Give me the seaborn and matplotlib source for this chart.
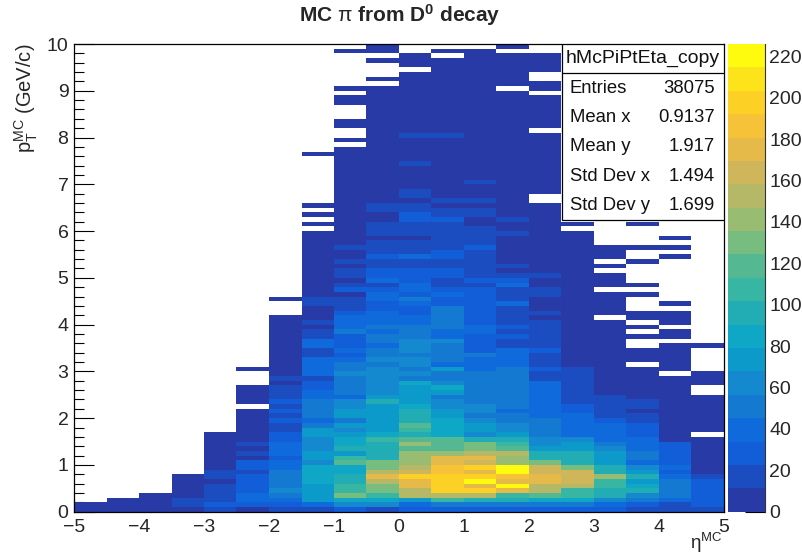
#!/usr/bin/env python3
""" MC pi from D0 decay, pT vs eta, with a ROOT style stats box. """
import matplotlib
matplotlib.use("Agg")
import matplotlib.pyplot as plt
from matplotlib.colors import ListedColormap
from matplotlib.patches import Rectangle
from matplotlib.ticker import MultipleLocator
import pandas as pd
import seaborn as sns

# Counts per pT bin (0.1 GeV/c, lowest first), one list per eta bin (0.5 wide).
col_00 = [5, 5]
col_01 = [5, 5, 5]
col_02 = [5, 5, 5, 5]
col_03 = [5, 16, 16, 5, 5, 5, 5, 5]
col_04 = [16, 28, 16, 16, 16, 16, 5, 16, 16, 5,
          5, 5, 5, 5, 5, 5, 5]
col_05 = [5, 28, 39, 39, 28, 28, 28, 28, 16, 28,
          28, 5, 16, 5, 16, 5, 5, 5, 5, 5,
          5, 5, 0, 5, 5, 5, 5, 0, 0, 0,
          5]
col_06 = [16, 28, 39, 50, 62, 50, 50, 50, 50, 39,
          39, 28, 39, 39, 39, 28, 28, 16, 16, 28,
          16, 28, 16, 28, 16, 16, 16, 5, 16, 5,
          5, 5, 5, 5, 5, 5, 5, 5, 5, 5,
          5, 5, 0, 0, 0, 5]
col_07 = [16, 39, 73, 73, 73, 73, 84, 84, 84, 84,
          62, 73, 73, 62, 62, 62, 73, 73, 50, 39,
          50, 50, 50, 50, 39, 39, 28, 28, 16, 39,
          39, 39, 39, 16, 16, 39, 39, 16, 16, 5,
          16, 5, 5, 5, 16, 16, 5, 5, 5, 5,
          5, 5, 5, 5, 5, 5, 5, 5, 5, 5,
          0, 5, 0, 5, 0, 5, 0, 0, 0, 0,
          0, 0, 0, 0, 0, 0, 5]
col_08 = [28, 62, 84, 130, 107, 107, 96, 96, 84, 84,
          118, 107, 73, 96, 84, 84, 73, 62, 73, 50,
          73, 73, 62, 62, 39, 50, 50, 50, 50, 62,
          50, 50, 39, 28, 39, 28, 28, 28, 50, 39,
          39, 39, 28, 16, 16, 16, 5, 28, 16, 5,
          16, 16, 5, 16, 5, 5, 16, 5, 5, 5,
          5, 5, 5, 5, 5, 5, 5, 5, 5, 5,
          5, 5, 5, 5, 5, 5, 5, 5, 0, 5,
          0, 0, 5, 5, 0, 0, 0, 5, 5, 0,
          5, 0, 0, 0, 0, 0, 0, 0, 5, 0]
col_09 = [16, 62, 84, 107, 130, 130, 152, 175, 152, 130,
          130, 96, 96, 96, 96, 107, 84, 73, 73, 73,
          73, 73, 73, 96, 73, 62, 62, 62, 62, 62,
          62, 50, 62, 50, 50, 39, 50, 50, 39, 50,
          39, 39, 39, 28, 28, 39, 39, 28, 16, 39,
          28, 28, 16, 16, 28, 16, 16, 16, 5, 16,
          16, 16, 5, 5, 16, 16, 5, 5, 5, 5,
          5, 5, 5, 5, 5, 5, 5, 5, 5, 5,
          5, 5, 5, 5, 5, 5, 5, 5, 5, 5,
          5, 0, 5, 0, 0, 0, 5, 0, 5, 5]
col_10 = [28, 39, 73, 152, 152, 175, 175, 197, 163, 152,
          141, 141, 141, 118, 141, 118, 96, 107, 118, 96,
          96, 96, 84, 73, 73, 73, 73, 84, 50, 62,
          50, 62, 62, 50, 62, 62, 62, 50, 50, 50,
          39, 39, 28, 28, 39, 50, 28, 39, 39, 28,
          28, 28, 16, 16, 39, 16, 16, 16, 5, 16,
          16, 16, 28, 28, 16, 16, 5, 16, 16, 5,
          5, 5, 5, 5, 16, 5, 5, 5, 5, 5,
          16, 5, 5, 5, 5, 5, 5, 5, 5, 5,
          5, 5, 5, 5, 0, 5, 5, 5, 0, 0]
col_11 = [28, 50, 107, 152, 197, 197, 197, 197, 186, 186,
          175, 175, 141, 118, 118, 118, 84, 84, 84, 84,
          73, 73, 62, 62, 50, 73, 84, 62, 50, 50,
          73, 39, 50, 50, 50, 50, 62, 39, 39, 50,
          50, 50, 50, 50, 28, 28, 39, 28, 16, 16,
          28, 28, 16, 16, 28, 28, 16, 16, 16, 16,
          16, 16, 28, 16, 16, 5, 16, 5, 5, 5,
          5, 5, 5, 5, 5, 5, 5, 5, 5, 5,
          16, 5, 5, 5, 5, 5, 5, 5, 5, 5,
          5, 5, 5, 5, 5, 5, 5, 0, 5, 0]
col_12 = [28, 50, 96, 152, 197, 175, 226, 197, 175, 197,
          163, 175, 152, 130, 130, 96, 62, 73, 73, 62,
          50, 62, 62, 50, 50, 50, 50, 50, 50, 50,
          39, 39, 39, 50, 28, 28, 28, 28, 39, 39,
          28, 28, 28, 28, 28, 28, 28, 28, 16, 28,
          16, 16, 16, 16, 16, 16, 28, 16, 16, 16,
          16, 5, 5, 16, 16, 5, 16, 5, 5, 5,
          16, 5, 5, 5, 5, 5, 5, 5, 5, 5,
          5, 5, 5, 5, 5, 5, 5, 5, 5, 5,
          5, 5, 5, 5, 5, 5, 5, 5, 5, 0]
col_13 = [28, 50, 96, 107, 175, 220, 175, 186, 220, 220,
          141, 141, 152, 118, 107, 96, 73, 62, 62, 50,
          50, 39, 50, 50, 50, 50, 50, 50, 50, 50,
          50, 39, 39, 39, 39, 16, 16, 28, 16, 28,
          16, 16, 16, 16, 39, 16, 16, 16, 39, 28,
          16, 5, 16, 5, 5, 5, 5, 5, 5, 16,
          5, 5, 16, 5, 5, 5, 5, 5, 5, 5,
          5, 5, 5, 5, 5, 5, 5, 5, 5, 5,
          5, 5, 5, 5, 5, 5, 5, 5, 5, 5,
          0, 5, 5, 5, 5, 5, 5, 5, 0, 5]
col_14 = [28, 50, 84, 118, 152, 152, 175, 175, 163, 163,
          130, 96, 96, 73, 62, 62, 50, 50, 50, 50,
          39, 39, 39, 39, 39, 39, 39, 39, 16, 16,
          28, 16, 16, 16, 28, 16, 16, 16, 16, 16,
          16, 5, 16, 5, 5, 5, 16, 16, 5, 5,
          16, 5, 5, 5, 5, 5, 5, 5, 5, 5,
          5, 5, 5, 5, 5, 5, 0, 0, 5, 5,
          5, 5, 5, 5, 5, 5, 5, 5, 5, 5,
          5, 0, 5, 5, 5, 5, 5, 5, 5, 0,
          5, 5, 0, 0, 5, 5, 5, 5, 0, 0]
col_15 = [28, 50, 84, 107, 107, 152, 163, 163, 163, 130,
          96, 96, 96, 73, 73, 62, 39, 39, 39, 39,
          39, 28, 28, 16, 16, 16, 16, 16, 16, 16,
          16, 5, 5, 5, 5, 5, 5, 5, 5, 5,
          5, 5, 5, 5, 5, 5, 5, 5, 5, 5,
          5, 5, 5, 5, 5, 5, 5, 5, 5, 5,
          0, 5]
col_16 = [28, 39, 62, 96, 96, 107, 107, 141, 96, 96,
          73, 73, 73, 62, 50, 39, 39, 39, 39, 28,
          16, 16, 16, 16, 16, 5, 5, 5, 5, 5,
          5, 5, 5, 5, 5, 5, 5, 5, 5, 5,
          5, 0, 5, 5, 5, 5, 5, 0, 5, 5,
          5, 0, 5, 0, 5, 5, 5]
col_17 = [16, 28, 50, 62, 96, 84, 73, 96, 73, 62,
          39, 50, 50, 39, 39, 39, 28, 28, 28, 16,
          16, 5, 16, 16, 5, 5, 5, 5, 5, 5,
          5, 0, 5, 5, 5, 0, 0, 5, 0, 5,
          0, 5, 5, 0, 0, 0, 5, 0, 5, 0,
          0, 0, 0, 5, 0, 0, 5, 0, 0, 0,
          0, 5]
col_18 = [16, 16, 39, 50, 50, 50, 50, 39, 28, 39,
          28, 28, 28, 28, 28, 5, 5, 5, 5, 5,
          5, 5, 5, 5, 5, 5, 5, 5, 5, 0,
          5, 5, 5, 5, 5, 5, 0, 5, 5, 0,
          5, 5, 5, 0, 5, 0, 0, 0, 0, 0,
          0, 0, 0, 0, 5, 0, 5, 0, 5]
col_19 = [16, 28, 28, 28, 28, 28, 28, 16, 5, 5,
          5, 5, 5, 5, 5, 5, 0, 5, 5, 5,
          5, 5, 5, 5, 5, 0, 0, 5, 5, 5,
          0, 0, 0, 0, 0, 5]

columns = [col_00, col_01, col_02, col_03, col_04, col_05, col_06, col_07, col_08, col_09,
           col_10, col_11, col_12, col_13, col_14, col_15, col_16, col_17, col_18, col_19]

stats_title = "hMcPiPtEta_copy"
stats_names = ["Entries", "Mean x", "Mean y", "Std Dev x", "Std Dev y"]
stats_values = ["38075", "0.9137", "1.917", "1.494", "1.699"]

# The 20 contour colours as they show in the palette, bottom to top.
band_colors = ["#283aa6", "#1b4cc0", "#125ed9", "#0f6adb", "#147ad1",
               "#1489cf", "#0c9acb", "#0fa7c6", "#21adb3", "#37b6a3",
               "#54b992", "#77bd80", "#98bc72", "#b5b967", "#d0b65a",
               "#e6ba48", "#f6c238", "#fdd026", "#fde31a", "#fffb0e"]

W, H = 803, 555
FONT = "Liberation Sans"

if __name__ == "__main__":
    sns.set_style("white")
    plt.rcParams["font.family"] = [FONT, "DejaVu Sans"]
    plt.rcParams["mathtext.fontset"] = "custom"
    plt.rcParams["mathtext.rm"] = FONT
    plt.rcParams["mathtext.it"] = FONT
    plt.rcParams["mathtext.bf"] = FONT + ":bold"

    rows = []
    for i, col in enumerate(columns):
        for j, n in enumerate(col):
            if n > 0:
                rows.append({"eta": -5 + 0.5 * i + 0.25, "pt": 0.1 * j + 0.05, "count": n})
    df = pd.DataFrame(rows)

    fig = plt.figure(figsize=(W / 100, H / 100), dpi=100)
    ax = fig.add_axes((74 / W, 1 - 511.7 / H, 650 / W, 467.7 / H))
    cax = fig.add_axes((728 / W, 1 - 511.7 / H, 37 / W, 467.7 / H))

    sns.histplot(
        data=df, x="eta", y="pt", weights="count",
        bins=(20, 100), binrange=((-5, 5), (0, 10)),
        cmap=ListedColormap(band_colors), vmin=0, vmax=226,
        cbar=True, cbar_ax=cax, cbar_kws={"ticks": list(range(0, 221, 20))},
        ax=ax,
    )

    ax.set_xlim(-5, 5)
    ax.set_ylim(0, 10)
    ax.xaxis.set_major_locator(MultipleLocator(1))
    ax.xaxis.set_minor_locator(MultipleLocator(0.2))
    ax.yaxis.set_major_locator(MultipleLocator(1))
    ax.yaxis.set_minor_locator(MultipleLocator(0.2))
    ax.tick_params(axis="x", which="major", direction="in", length=9.4, width=0.8, color="black",
                   labelsize=14, pad=5, bottom=True)
    ax.tick_params(axis="x", which="minor", direction="in", length=4.8, width=0.8, color="black", bottom=True)
    ax.tick_params(axis="y", which="major", direction="in", length=14.4, width=0.8, color="black",
                   labelsize=14, pad=4, left=True)
    ax.tick_params(axis="y", which="minor", direction="in", length=7.2, width=0.8, color="black", left=True)
    for spine in ax.spines.values():
        spine.set_color("black")
        spine.set_linewidth(0.9)
        spine.set_visible(True)

    ax.set_xlabel(r"$\mathrm{\eta^{MC}}$", fontsize=13.5, loc="right")
    ax.xaxis.set_label_coords(0.998, -0.042)
    ax.set_ylabel(r"$\mathrm{p_{T}^{MC}}$ (GeV/c)", fontsize=14.5, loc="top", labelpad=5)
    fig.text(400 / W, 1 - 15 / H, r"MC $\mathrm{\pi}$ from D$^{\mathbf{0}}$ decay",
             fontsize=15, fontweight="bold", ha="center", va="center")

    # Palette axis, ticks inside from the right edge.
    cax.tick_params(axis="y", which="major", direction="in", length=14.4, width=0.8, color="black",
                    labelsize=14, pad=3, right=True, left=False, labelright=True, labelleft=False)
    cax.minorticks_off()
    for name, spine in cax.spines.items():
        spine.set_visible(name == "right")
        spine.set_color("#333333")

    # Stats box.
    x0, x1 = (562 - 74) / 650, 1.0
    y_of = lambda px: (511.7 - px) / 467.7
    ax.add_patch(Rectangle((x0, y_of(219.7)), x1 - x0, y_of(44) - y_of(219.7), transform=ax.transAxes,
                           facecolor="white", edgecolor="black", linewidth=0.9, zorder=5))
    ax.plot([x0, x1], [y_of(73), y_of(73)], transform=ax.transAxes, color="black", lw=0.9, zorder=6)
    ax.text((x0 + x1) / 2, y_of(58.5), stats_title, transform=ax.transAxes, fontsize=14,
            ha="center", va="center", color="#111111", zorder=6)
    for k, (name, value) in enumerate(zip(stats_names, stats_values)):
        yy = y_of(88.7 + 29.1 * k)
        ax.text((570 - 74) / 650, yy, name, transform=ax.transAxes, fontsize=13.3,
                ha="left", va="center", color="#111111", zorder=6)
        ax.text((715 - 74) / 650, yy, value, transform=ax.transAxes, fontsize=13.3,
                ha="right", va="center", color="#111111", zorder=6)

    fig.savefig("out.png", dpi=100)
